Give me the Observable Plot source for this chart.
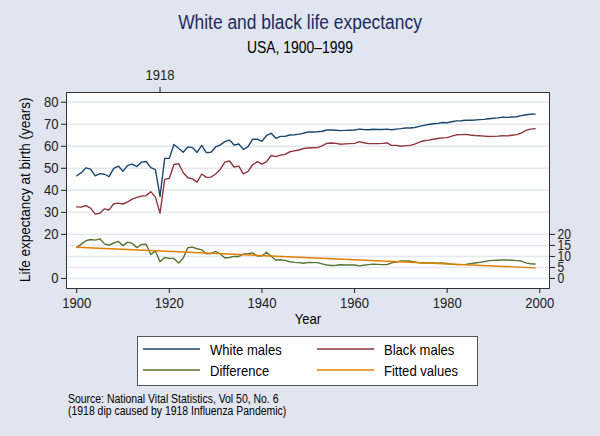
<!DOCTYPE html>
<html><head><meta charset="utf-8">
<script src="https://cdn.jsdelivr.net/npm/d3@7"></script>
<script src="https://cdn.jsdelivr.net/npm/@observablehq/plot@0.6"></script>
<style>
body{margin:0;background:#e1e5f0;}
#wrap{position:relative;width:600px;height:436px;background:#e1e5f0;font-family:"Liberation Sans",Arial,Helvetica,sans-serif;overflow:hidden;color:#000}
#wrap svg{position:absolute;left:0;top:0}
.t{position:absolute;white-space:nowrap;line-height:1}
</style></head><body>
<div id="wrap"></div>
<script>
// ---- data ----
const startYear = 1900;
const whiteMales = [46.6,48.0,50.2,49.6,46.6,47.6,47.3,46.2,50.0,51.0,
  48.7,51.3,51.9,50.8,52.8,53.1,50.3,49.4,37.2,54.5,
  54.5,60.8,59.1,57.3,59.7,59.4,57.2,60.4,57.1,57.3,
  59.7,60.6,62.1,62.8,60.6,61.0,58.6,59.8,63.2,63.2,
  62.2,64.9,65.9,63.6,64.5,64.5,65.1,65.2,65.5,65.9,
  66.5,66.5,66.6,66.8,67.4,67.4,67.3,67.1,67.2,67.3,
  67.4,67.8,67.6,67.5,67.7,67.6,67.6,67.8,67.5,67.8,
  68.0,68.3,68.3,68.5,69.0,69.5,69.9,70.2,70.4,70.8,
  70.7,71.1,71.5,71.6,71.8,71.8,71.9,72.1,72.2,72.5,
  72.7,72.9,73.2,73.1,73.3,73.4,73.9,74.3,74.5,74.6];
const blackMales = [32.5,32.4,33.1,31.9,29.2,29.6,31.6,31.1,33.9,34.2,
  33.8,34.8,36.0,36.8,37.4,37.6,39.4,36.9,29.6,45.0,
  45.4,51.7,52.1,48.1,45.7,45.2,43.7,47.4,45.9,46.0,
  47.4,49.5,52.8,53.3,50.6,51.0,47.5,48.6,51.6,53.0,
  51.9,53.0,55.8,55.3,56.0,56.3,57.5,57.9,58.3,59.0,
  59.2,59.3,59.4,60.2,61.3,61.5,61.3,60.9,61.1,61.2,
  61.3,62.1,61.6,61.2,61.2,61.2,61.3,61.5,60.4,60.4,
  60.0,60.3,60.4,61.0,61.9,62.5,62.8,63.2,63.5,63.8,
  63.9,64.6,65.2,65.3,65.4,65.1,64.9,64.8,64.6,64.4,
  64.5,64.6,64.8,64.7,65.0,65.3,66.0,67.2,67.8,68.0];
const difference = [14.1,15.6,17.1,17.7,17.4,18.0,15.7,15.1,16.1,16.8,
  14.9,16.5,15.9,14.0,15.4,15.5,10.9,12.5,7.6,9.5,
  9.1,9.1,7.0,9.2,14.0,14.2,13.5,13.0,11.2,11.3,
  12.3,11.1,9.3,9.5,10.0,10.0,11.1,11.2,11.6,10.2,
  10.3,11.9,10.1,8.3,8.5,8.2,7.6,7.3,7.2,6.9,
  7.3,7.2,7.2,6.6,6.1,5.9,6.0,6.2,6.1,6.1,
  6.1,5.7,6.0,6.3,6.5,6.4,6.3,6.3,7.1,7.4,
  8.0,8.0,7.9,7.5,7.1,7.0,7.1,7.0,6.9,7.0,
  6.8,6.5,6.3,6.3,6.4,6.7,7.0,7.3,7.6,8.1,
  8.2,8.3,8.4,8.4,8.3,8.1,7.9,7.1,6.7,6.6];
const fittedYears = [1900, 1999];
const fittedValues = [14.2, 4.8];
const xTicks = [1900, 1920, 1940, 1960, 1980, 2000];
const topTicks = [1918];
const leftTicks = [0, 20, 30, 40, 50, 60, 70, 80];
const rightTicks = [0, 5, 10, 15, 20];
const gridValues = [0, 5, 10, 15, 20, 30, 40, 50, 60, 70, 80];
const seriesNames = ["White males", "Black males", "Difference", "Fitted values"];
const seriesColors = ["#1a476f", "#90353b", "#55752f", "#e37e00"];

const FONT = '"Liberation Sans",Arial,Helvetica,sans-serif';
const NARROW = 0.87;

const rows = whiteMales.map((w, i) => ({year: startYear + i, wm: w, bm: blackMales[i], diff: difference[i]}));
const fitRows = fittedYears.map((y, i) => ({year: y, v: fittedValues[i]}));

const axisStyle = {fontSize: 15, color: "#222", label: null};

const chart = Plot.plot({
  width: 600, height: 436,
  marginLeft: 66, marginRight: 51, marginTop: 92, marginBottom: 148,
  x: {domain: [1897.8, 2002.1]},
  y: {domain: [-4.55, 84.4]},
  style: {background: "transparent", fontFamily: FONT, color: "#000", overflow: "visible"},
  marks: [
    Plot.frame({fill: "white", stroke: null}),
    Plot.ruleY(gridValues, {stroke: "#e3e8f1", strokeWidth: 1.5}),
    Plot.line(rows, {x: "year", y: "wm", stroke: seriesColors[0], strokeWidth: 1.4}),
    Plot.line(rows, {x: "year", y: "bm", stroke: seriesColors[1], strokeWidth: 1.4}),
    Plot.line(rows, {x: "year", y: "diff", stroke: seriesColors[2], strokeWidth: 1.4}),
    Plot.line(fitRows, {x: "year", y: "v", stroke: seriesColors[3], strokeWidth: 1.4}),
    Plot.frame({stroke: "#333", strokeWidth: 1}),
    Plot.axisY({...axisStyle, anchor: "left", ticks: leftTicks, tickSize: 5, tickPadding: 3}),
    Plot.axisY({...axisStyle, fontSize: 14, anchor: "right", ticks: rightTicks, tickSize: 5, tickPadding: 3}),
    Plot.axisX({...axisStyle, anchor: "bottom", ticks: xTicks, tickFormat: d => String(d), tickSize: 5, tickPadding: 4}),
    Plot.axisX({...axisStyle, anchor: "top", ticks: topTicks, tickFormat: d => String(d), tickSize: 6, tickPadding: 7})
  ]
});

// condense tick labels horizontally (narrow Helvetica look), keeping their anchor positions
chart.querySelectorAll('g[aria-label$="tick label"] text').forEach(t => {
  const tr = t.getAttribute("transform") || "";
  t.setAttribute("transform", `${tr} scale(${NARROW},1)`.trim());
  const xa = t.getAttribute("x");
  if (xa != null && xa !== "" && !isNaN(+xa)) t.setAttribute("x", +xa / NARROW);
});

const wrap = document.getElementById("wrap");
wrap.appendChild(chart);

function addText(txt, css, origin) {
  const d = document.createElement("div");
  d.className = "t";
  d.textContent = txt;
  Object.assign(d.style, {transform: `scaleX(${NARROW})`, transformOrigin: origin || "0 50%"}, css);
  wrap.appendChild(d);
  return d;
}
addText("White and black life expectancy", {left: "0px", width: "600px", textAlign: "center", top: "11.7px", fontSize: "20px", color: "#1a2b5e"}, "50% 50%");
addText("USA, 1900\u20131999", {left: "0px", width: "600px", textAlign: "center", top: "40.2px", fontSize: "16px"}, "50% 50%");
addText("Year", {left: "207.5px", width: "200px", textAlign: "center", top: "310.6px", fontSize: "15px"}, "50% 50%");
addText("Life expectancy at birth (years)", {left: "-125px", width: "300px", textAlign: "center", top: "182.3px", fontSize: "15.5px", transform: `rotate(-90deg) scaleX(${NARROW})`, transformOrigin: "50% 50%"});

// legend
const leg = d3.create("svg").attr("width", 341).attr("height", 50)
  .style("left", "137px").style("top", "336px");
leg.append("rect").attr("x", 0.5).attr("y", 0.5).attr("width", 340).attr("height", 49)
  .attr("fill", "white").attr("stroke", "#555");
wrap.appendChild(leg.node());
const legPos = [[143, 349], [317, 349], [143, 370], [317, 370]];
seriesNames.forEach((name, i) => {
  const [lx, ly] = legPos[i];
  leg.append("line").attr("x1", lx - 137).attr("x2", lx - 137 + 57)
    .attr("y1", ly - 336).attr("y2", ly - 336)
    .attr("stroke", seriesColors[i]).attr("stroke-width", 1.5);
  addText(name, {left: (lx + 67) + "px", top: (ly - 7.4) + "px", fontSize: "15px"});
});

addText("Source: National Vital Statistics, Vol 50, No. 6", {left: "68px", top: "393.1px", fontSize: "12px"});
addText("(1918 dip caused by 1918 Influenza Pandemic)", {left: "68px", top: "405.1px", fontSize: "12px"});
</script>
</body></html>
